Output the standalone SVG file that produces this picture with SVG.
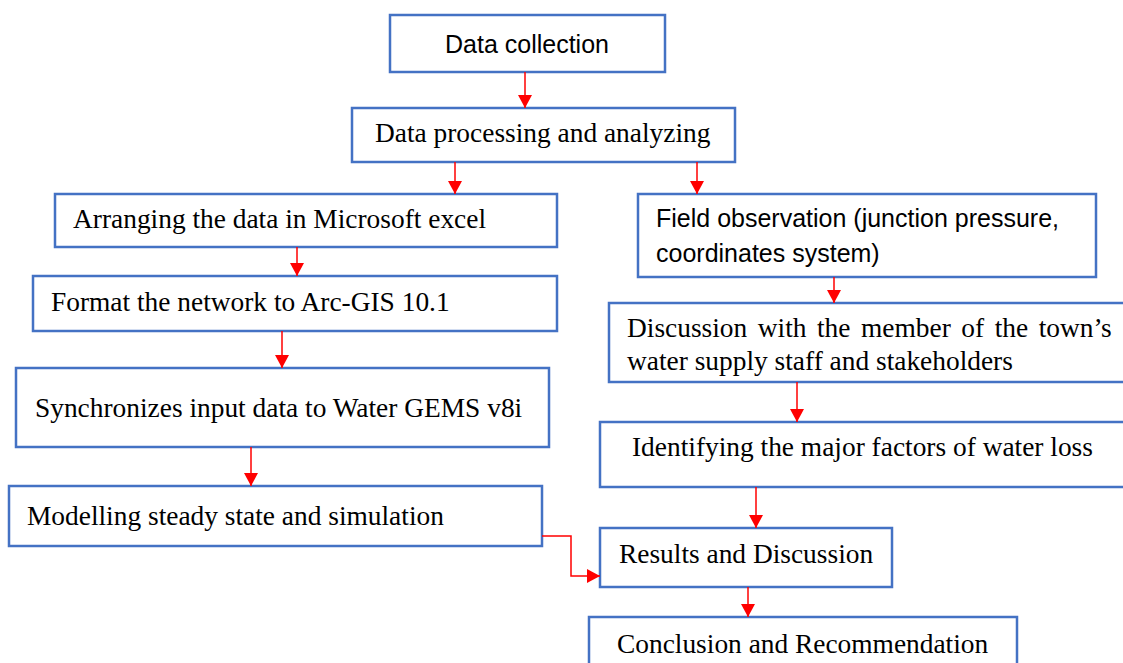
<svg xmlns="http://www.w3.org/2000/svg" width="1123" height="663" viewBox="0 0 1123 663">
  <style>
    .box { fill: #ffffff; stroke: #4472C4; stroke-width: 2.5; }
    .serif { font-family: "Liberation Serif", "Times New Roman", serif; font-size: 27.4px; fill: #000000; }
    .sans { font-family: "Liberation Sans", Arial, sans-serif; font-size: 25px; fill: #000000; }
    .link { fill: none; stroke: #FF0000; stroke-width: 1.5; }
  </style>
  <defs>
    <marker id="arrow" markerUnits="userSpaceOnUse" markerWidth="14" markerHeight="14" refX="13" refY="7" orient="auto">
      <path d="M0,0 L13,7 L0,14 Z" fill="#FF0000"/>
    </marker>
  </defs>
  <rect width="1123" height="663" fill="#ffffff"/>

  <!-- process steps -->
  <g id="data-collection">
    <rect class="box" x="390" y="15" width="275" height="57"/>
    <text class="sans" x="445" y="53">Data collection</text>
  </g>
  <g id="data-processing">
    <rect class="box" x="352" y="108" width="383" height="54"/>
    <text class="serif" x="375" y="142">Data processing and analyzing</text>
  </g>
  <g id="arranging-data">
    <rect class="box" x="55" y="194" width="502" height="53"/>
    <text class="serif" x="73" y="228">Arranging the data in Microsoft excel</text>
  </g>
  <g id="format-network">
    <rect class="box" x="33" y="276" width="524" height="55"/>
    <text class="serif" x="51" y="311">Format the network to Arc-GIS 10.1</text>
  </g>
  <g id="synchronize-input">
    <rect class="box" x="16" y="368" width="533" height="79"/>
    <text class="serif" x="35" y="417">Synchronizes input data to Water GEMS v8i</text>
  </g>
  <g id="modelling">
    <rect class="box" x="9" y="486" width="533" height="60"/>
    <text class="serif" x="27" y="525">Modelling steady state and simulation</text>
  </g>
  <g id="field-observation">
    <rect class="box" x="638" y="194" width="458" height="83"/>
    <text class="sans" x="656" y="227">Field observation (junction pressure,</text>
    <text class="sans" x="656" y="262">coordinates system)</text>
  </g>
  <g id="discussion-staff">
    <rect class="box" x="609" y="303" width="530" height="79"/>
    <text class="serif" x="627" y="337" word-spacing="3.7">Discussion with the member of the town’s</text>
    <text class="serif" x="627" y="370">water supply staff and stakeholders</text>
  </g>
  <g id="identifying-factors">
    <rect class="box" x="600" y="422" width="540" height="65"/>
    <text class="serif" x="632" y="456">Identifying the major factors of water loss</text>
  </g>
  <g id="results">
    <rect class="box" x="600" y="528" width="292" height="59"/>
    <text class="serif" x="619" y="563">Results and Discussion</text>
  </g>
  <g id="conclusion">
    <rect class="box" x="589" y="617" width="428" height="60"/>
    <text class="serif" x="617" y="653">Conclusion and Recommendation</text>
  </g>

  <!-- connectors -->
  <g id="connectors">
    <line class="link" x1="525" y1="72" x2="525" y2="108" marker-end="url(#arrow)"/>
    <line class="link" x1="455" y1="162" x2="455" y2="194" marker-end="url(#arrow)"/>
    <line class="link" x1="697" y1="162" x2="697" y2="194" marker-end="url(#arrow)"/>
    <line class="link" x1="297" y1="247" x2="297" y2="276" marker-end="url(#arrow)"/>
    <line class="link" x1="282" y1="331" x2="282" y2="368" marker-end="url(#arrow)"/>
    <line class="link" x1="251" y1="447" x2="251" y2="486" marker-end="url(#arrow)"/>
    <line class="link" x1="834" y1="277" x2="834" y2="303" marker-end="url(#arrow)"/>
    <line class="link" x1="797" y1="382" x2="797" y2="422" marker-end="url(#arrow)"/>
    <line class="link" x1="756" y1="487" x2="756" y2="528" marker-end="url(#arrow)"/>
    <polyline class="link" points="542,536 571,536 571,576 600,576" marker-end="url(#arrow)"/>
    <line class="link" x1="748" y1="587" x2="748" y2="617" marker-end="url(#arrow)"/>
  </g>
</svg>
